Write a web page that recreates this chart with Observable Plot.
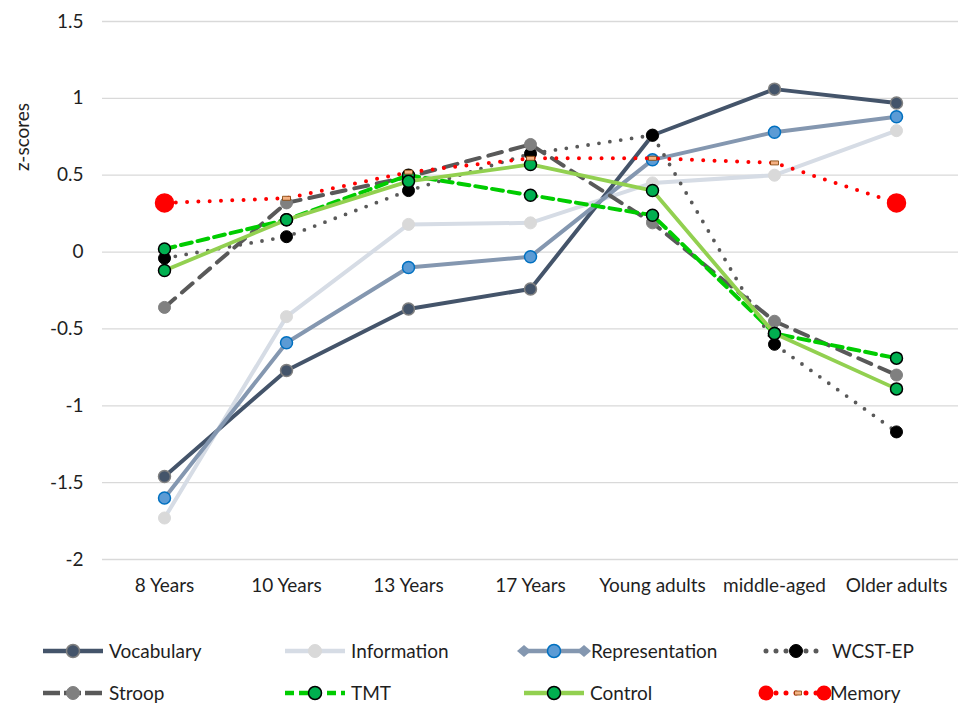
<!DOCTYPE html>
<html>
<head>
<meta charset="utf-8">
<script src="https://cdn.jsdelivr.net/npm/d3@7"></script>
<script src="https://cdn.jsdelivr.net/npm/@observablehq/plot@0.6"></script>
<style>
  body { margin: 0; background: #fff; font-family: Lato, "Open Sans", sans-serif; }
  #chart, #legend { width: 961px; display: block; }
  svg { display: block; }
</style>
</head>
<body>
<div id="chart"></div>
<div id="legend"></div>
<script>
// Age groups along the x axis
const categories = ["8 Years", "10 Years", "13 Years", "17 Years", "Young adults", "middle-aged", "Older adults"];

// z-scores per measure, one value per age group
const vocabulary     = [-1.46, -0.77, -0.37, -0.24, 0.76, 1.06, 0.97];
const information    = [-1.73, -0.42, 0.18, 0.19, 0.45, 0.50, 0.79];
const representation = [-1.60, -0.59, -0.10, -0.03, 0.60, 0.78, 0.88];
const wcstEP         = [-0.04, 0.10, 0.40, 0.64, 0.76, -0.60, -1.17];
const stroop         = [-0.36, 0.32, 0.49, 0.70, 0.19, -0.45, -0.80];
const tmt            = [0.02, 0.21, 0.50, 0.37, 0.24, -0.53, -0.69];
const control        = [-0.12, 0.21, 0.46, 0.57, 0.40, -0.53, -0.89];
const memory         = [0.32, 0.35, 0.52, 0.61, 0.61, 0.58, 0.32];

const yTicks = [-2, -1.5, -1, -0.5, 0, 0.5, 1, 1.5];
const legendNames = ["Vocabulary", "Information", "Representation", "WCST-EP", "Stroop", "TMT", "Control", "Memory"];

const rows = vals => categories.map((c, i) => ({cat: c, v: vals[i], i}));

// small dash-shaped marker used on the inner Memory points
const dashSymbol = {
  draw(ctx) { ctx.moveTo(-4, -2); ctx.lineTo(4, -2); ctx.lineTo(4, 2); ctx.lineTo(-4, 2); ctx.closePath(); }
};

const FONT = 19;
const TEXT = "#1f1f1f";
const FAMILY = "Lato, 'Open Sans', sans-serif";

const series = [
  {vals: vocabulary, line: {stroke: "#44546A", strokeWidth: 4},
   dot: {r: 6, fill: "#44546A", stroke: "#808080", strokeWidth: 1.5}, legendDash: null},
  {vals: information, line: {stroke: "#D6DCE5", strokeWidth: 4},
   dot: {r: 6, fill: "#D9D9D9", stroke: "#D9D9D9", strokeWidth: 1}, legendDash: null},
  {vals: representation, line: {stroke: "#8497B0", strokeWidth: 4},
   dot: {r: 6, fill: "#5B9BD5", stroke: "#0070C0", strokeWidth: 1.5}, legendDash: null},
  {vals: wcstEP, line: {stroke: "#595959", strokeWidth: 3.8, strokeDasharray: "0,11", strokeLinecap: "round"},
   dot: {r: 6, fill: "#000", stroke: "#000", strokeWidth: 1}, legendDash: "0,10"},
  {vals: stroop, line: {stroke: "#595959", strokeWidth: 4, strokeDasharray: "14,9"},
   dot: {r: 6, fill: "#808080", stroke: "#808080", strokeWidth: 1}, legendDash: "17,4"},
  {vals: tmt, line: {stroke: "#00CC00", strokeWidth: 4, strokeDasharray: "11,6"},
   dot: {r: 6, fill: "#00B050", stroke: "#000", strokeWidth: 1.5}, legendDash: "9,5"},
  {vals: control, line: {stroke: "#92D050", strokeWidth: 3.8},
   dot: {r: 6, fill: "#00B050", stroke: "#000", strokeWidth: 1.5}, legendDash: null},
  {vals: memory, line: {stroke: "#FF0000", strokeWidth: 4, strokeDasharray: "0,11.3", strokeLinecap: "round"},
   dot: null, legendDash: "0,10"}
];

const marks = [
  Plot.gridY(yTicks, {stroke: "#D9D9D9", strokeOpacity: 1, strokeWidth: 1.3}),
  Plot.axisY(yTicks, {tickSize: 0, tickPadding: 19, tickFormat: d => String(d), fontSize: FONT, fill: TEXT, label: null}),
  Plot.axisX({tickSize: 0, tickPadding: 19, fontSize: FONT, fill: TEXT, label: null})
];

for (const s of series) {
  const data = rows(s.vals);
  marks.push(Plot.line(data, {x: "cat", y: "v", ...s.line}));
  if (s.dot) marks.push(Plot.dot(data, {x: "cat", y: "v", ...s.dot}));
}
// Memory: large red end markers, small dash markers in between
const memRows = rows(memory);
marks.push(Plot.dot(memRows.filter(d => d.i === 0 || d.i === categories.length - 1),
  {x: "cat", y: "v", r: 9, fill: "#FF0000", stroke: "#FF0000"}));
marks.push(Plot.dot(memRows.filter(d => d.i > 0 && d.i < categories.length - 1),
  {x: "cat", y: "v", symbol: dashSymbol, fill: "#F4B183", stroke: "#7F3F00", strokeWidth: 0.8}));

const chart = Plot.plot({
  width: 961,
  height: 615,
  marginLeft: 102,
  marginRight: 3,
  marginTop: 21,
  marginBottom: 56,
  style: {fontFamily: FAMILY, fontSize: FONT + "px", color: TEXT, background: "#fff"},
  x: {type: "point", domain: categories, padding: 0.5},
  y: {domain: [-2, 1.5]},
  marks
});

// rotated axis title
d3.select(chart).append("text")
  .attr("transform", "translate(21,137) rotate(-90)")
  .attr("text-anchor", "middle")
  .attr("dominant-baseline", "central")
  .attr("fill", TEXT)
  .attr("font-size", FONT)
  .attr("font-family", FAMILY)
  .text("z-scores");

document.getElementById("chart").appendChild(chart);

// Legend: two rows of four entries below the plot
const lg = d3.select("#legend").append("svg").attr("width", 961).attr("height", 89)
  .attr("font-family", FAMILY).attr("font-size", FONT);
const colX = [43, 285, 524, 766];
const rowY = [36, 78];
const LEN = 60;
series.forEach((s, k) => {
  const x0 = colX[k % 4], y = rowY[Math.floor(k / 4)];
  const g = lg.append("g");
  const ln = g.append("line").attr("x1", x0).attr("x2", x0 + LEN).attr("y1", y).attr("y2", y)
    .attr("stroke", s.line.stroke).attr("stroke-width", s.line.strokeWidth + 0.5);
  if (s.legendDash) {
    ln.attr("stroke-linecap", s.line.strokeLinecap || "butt").attr("stroke-dasharray", s.legendDash);
    if (s.line.strokeLinecap === "round") ln.attr("stroke-width", 5);
  }
  let tx = x0 + LEN + 6;
  if (k === 2) {
    [x0, x0 + LEN].forEach(cx => g.append("path")
      .attr("d", `M${cx - 7},${y}L${cx},${y - 6}L${cx + 7},${y}L${cx},${y + 6}Z`).attr("fill", s.line.stroke));
    tx = x0 + LEN + 7;
  }
  if (s.dot) {
    g.append("circle").attr("cx", x0 + LEN / 2).attr("cy", y).attr("r", s.dot.r + 0.5)
      .attr("fill", s.dot.fill).attr("stroke", s.dot.stroke).attr("stroke-width", s.dot.strokeWidth);
  } else {
    [x0, x0 + LEN - 2].forEach(cx => g.append("circle").attr("cx", cx).attr("cy", y).attr("r", 7.5).attr("fill", "#FF0000"));
    g.append("path").attr("d", dashSymbolPath(x0 + 32, y)).attr("fill", "#F4B183").attr("stroke", "#7F3F00").attr("stroke-width", 0.8);
    tx = x0 + LEN + 4;
  }
  g.append("text").attr("x", tx).attr("y", y).attr("dy", "0.35em").attr("fill", TEXT).text(legendNames[k]);
});
function dashSymbolPath(cx, cy) {
  return `M${cx - 3.5},${cy - 2}L${cx + 3.5},${cy - 2}L${cx + 3.5},${cy + 2}L${cx - 3.5},${cy + 2}Z`;
}
</script>
</body>
</html>
